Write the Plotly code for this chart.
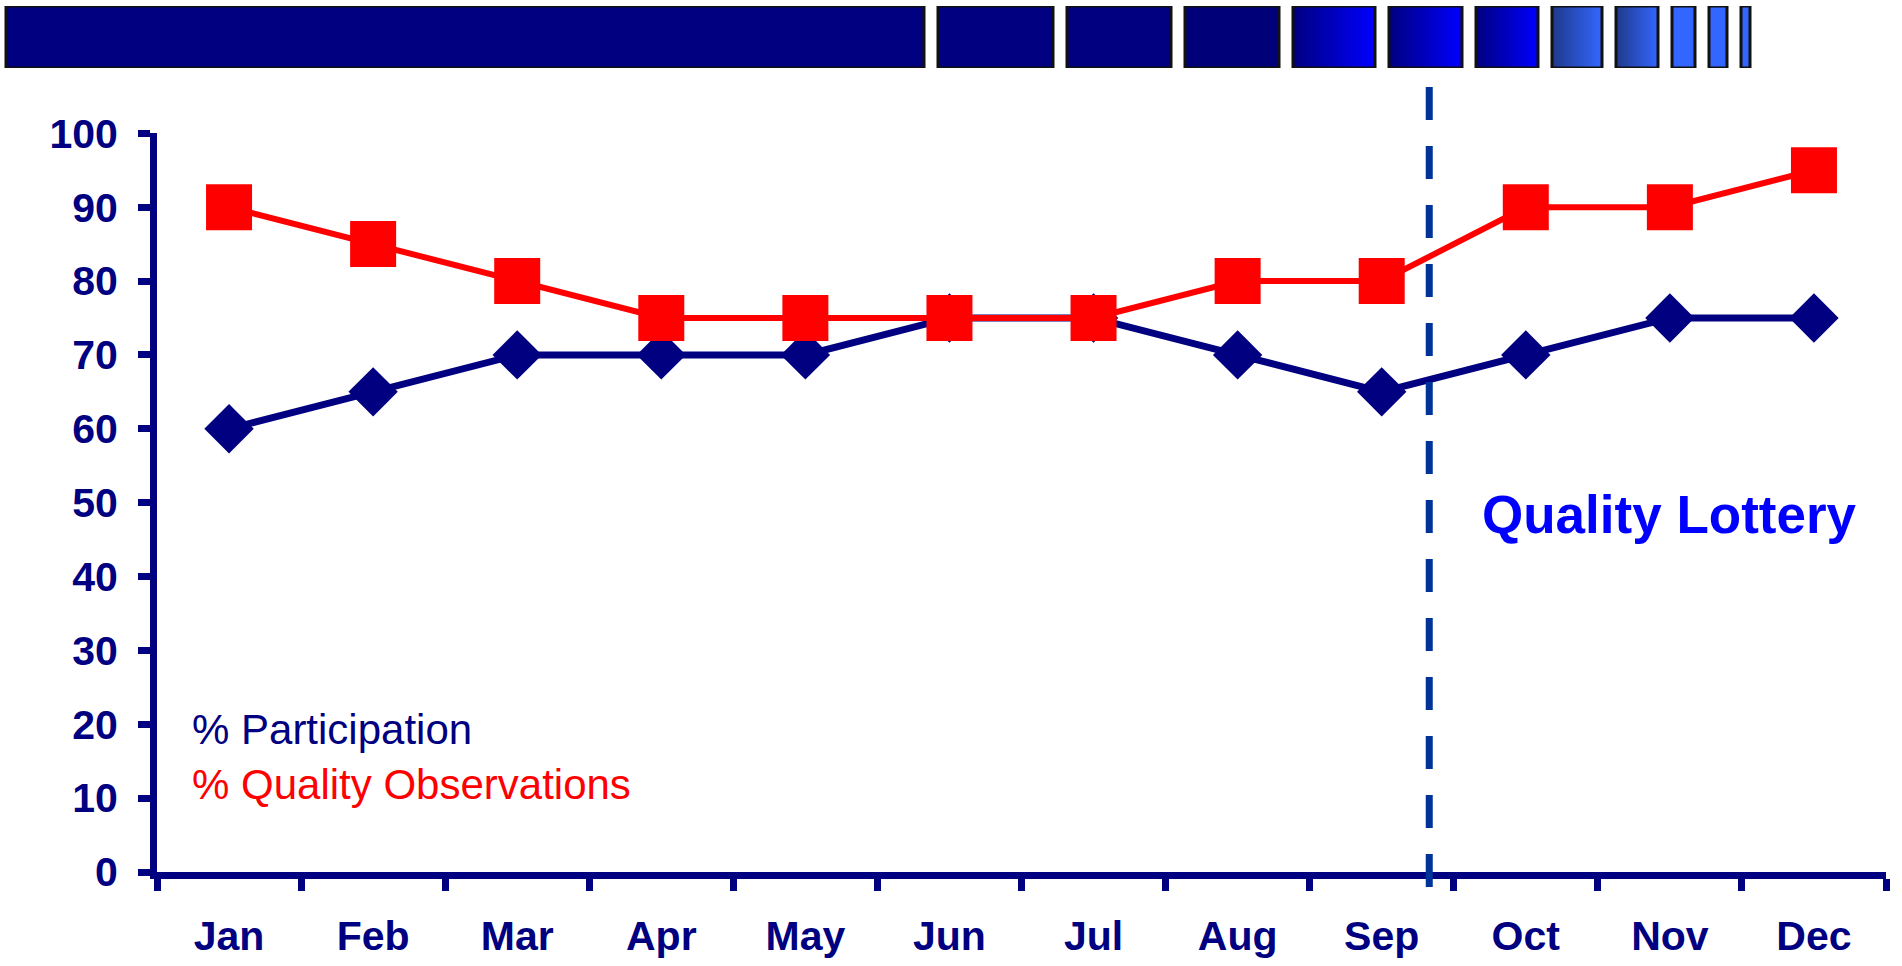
import plotly.graph_objects as go

# ---------------- data ----------------
months = ["Jan", "Feb", "Mar", "Apr", "May", "Jun",
          "Jul", "Aug", "Sep", "Oct", "Nov", "Dec"]
participation = [60, 65, 70, 70, 70, 75, 75, 70, 65, 70, 75, 75]
quality_observations = [90, 85, 80, 75, 75, 75, 75, 80, 80, 90, 90, 95]
series_names = ["% Participation", "% Quality Observations"]
y_tick_values = [0, 10, 20, 30, 40, 50, 60, 70, 80, 90, 100]
lottery_label = "Quality Lottery"
lottery_start = 8.33          # category position where the lottery begins
banner_widths = [918, 115, 104, 94, 82, 73, 62, 50, 42, 23, 18, 9]

# ---------------- style ----------------
W, H = 1902, 966
NAVY = "#000080"
RED = "#FF0000"
BLUE = "#0000FF"
DASH = "#003399"
FONT = "Liberation Sans, Arial, sans-serif"
banner_gradients = [
    ("#000080", "#000080"), ("#000080", "#000080"), ("#000080", "#000080"),
    ("#000078", "#000078"), ("#000080", "#0000FF"), ("#000080", "#0000FF"),
    ("#000080", "#0000FF"), ("#1F3A8A", "#3366FF"), ("#1F3A8A", "#3366FF"),
    ("#3366FF", "#3366FF"), ("#3366FF", "#3366FF"), ("#3366FF", "#3366FF"),
]
banner_start, banner_gap = 6, 14
x_domain = [157 / W, 1886 / W]
y_domain = [(H - 872) / H, (H - 133.3) / H]

fig = go.Figure()

# decorative progress banner at the top
pos = banner_start
for w, (c0, c1) in zip(banner_widths, banner_gradients):
    fig.add_trace(go.Scatter(
        x=[pos, pos + w, pos + w, pos, pos], y=[0, 0, 1, 1, 0],
        xaxis="x2", yaxis="y2", mode="lines", fill="toself",
        fillgradient=dict(type="horizontal", colorscale=[[0, c0], [1, c1]]),
        line=dict(color="#111111", width=3), hoverinfo="skip", showlegend=False))
    pos += w + banner_gap

# data series
fig.add_trace(go.Scatter(
    x=months, y=participation, name=series_names[0], mode="lines+markers",
    line=dict(color=NAVY, width=7),
    marker=dict(symbol="diamond", size=38, color=NAVY, line=dict(width=0)),
    cliponaxis=False, showlegend=False))
fig.add_trace(go.Scatter(
    x=months, y=quality_observations, name=series_names[1], mode="lines+markers",
    line=dict(color=RED, width=6),
    marker=dict(symbol="square", size=46, color=RED, line=dict(width=0)),
    cliponaxis=False, showlegend=False))

# lottery start marker line (position converted from category units to paper)
n_cat = len(months)
lottery_paper = x_domain[0] + (lottery_start + 0.5) / n_cat * (x_domain[1] - x_domain[0])
fig.add_shape(type="line", xref="paper", yref="paper",
              x0=lottery_paper, x1=lottery_paper,
              y0=(H - 87) / H, y1=(H - 889) / H,
              line=dict(color=DASH, width=7, dash="33px,26px"))

fig.add_annotation(x=-0.27, y=19.3, xref="x", yref="y", text=series_names[0],
                   showarrow=False, xanchor="left", yanchor="middle",
                   font=dict(family=FONT, size=42, color=NAVY))
fig.add_annotation(x=-0.27, y=11.9, xref="x", yref="y", text=series_names[1],
                   showarrow=False, xanchor="left", yanchor="middle",
                   font=dict(family=FONT, size=42, color=RED))
fig.add_annotation(x=months[10], y=48.4, xref="x", yref="y", text=lottery_label,
                   showarrow=False, xanchor="center", yanchor="middle",
                   font=dict(family=FONT, size=53, color=BLUE, weight="bold"))

fig.update_layout(
    width=W, height=H, autosize=False, template="none",
    margin=dict(l=0, r=0, t=0, b=0, pad=0),
    paper_bgcolor="white", plot_bgcolor="rgba(0,0,0,0)",
    font=dict(family=FONT, color=NAVY),
    showlegend=False,
    xaxis=dict(
        type="category", categoryorder="array", categoryarray=months,
        range=[-0.5, 11.5], domain=x_domain, anchor="y",
        tickson="boundaries", ticks="outside", ticklen=12, tickwidth=7,
        tickcolor=NAVY, showline=True, linewidth=7, linecolor=NAVY,
        showgrid=False, zeroline=False, automargin=False,
        ticklabelstandoff=22,
        tickfont=dict(family=FONT, size=41, color=NAVY, weight="bold")),
    yaxis=dict(
        range=[0, 100], domain=y_domain, anchor="x",
        tickvals=y_tick_values, ticks="outside", ticklen=12, tickwidth=7,
        tickcolor=NAVY, showline=True, linewidth=7, linecolor=NAVY,
        showgrid=False, zeroline=False, automargin=False,
        ticklabelstandoff=12,
        tickfont=dict(family=FONT, size=41, color=NAVY, weight="bold")),
    xaxis2=dict(domain=[0, 1], range=[0, W], anchor="y2", visible=False,
                fixedrange=True),
    yaxis2=dict(domain=[(H - 68) / H, (H - 6) / H], range=[0, 1], anchor="x2",
                visible=False, fixedrange=True),
)

fig.write_html("out.html", config={"displayModeBar": False},
               post_script="document.body.style.margin='0';"
                           "document.body.style.overflow='hidden';")
